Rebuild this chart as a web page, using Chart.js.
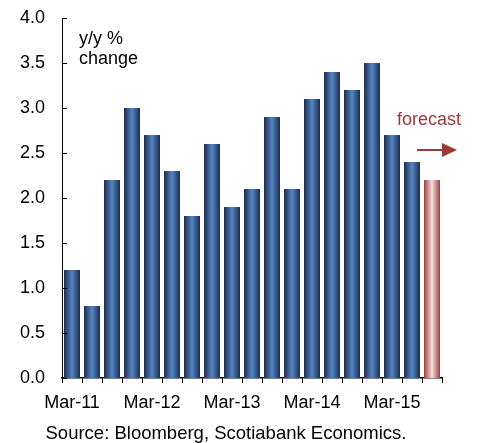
<!DOCTYPE html>
<html>
<head>
<meta charset="utf-8">
<script src="https://cdn.jsdelivr.net/npm/chart.js@4"></script>
<style>
  html, body { margin: 0; padding: 0; background: #fff; }
  #wrap { position: relative; width: 478px; height: 443px; }
</style>
</head>
<body>
<div id="wrap"><canvas id="chart"></canvas></div>
<script>
// quarterly y/y % change, last bar is the forecast
const quarters = ['Mar-11', '', '', '', 'Mar-12', '', '', '', 'Mar-13', '', '', '', 'Mar-14', '', '', '', 'Mar-15', '', '']
const values = [1.2, 0.8, 2.2, 3.0, 2.7, 2.3, 1.8, 2.6, 1.9, 2.1, 2.9, 2.1, 3.1, 3.4, 3.2, 3.5, 2.7, 2.4, 2.2]
const forecastIndex = 18
const yTicks = [0, 0.5, 1.0, 1.5, 2.0, 2.5, 3.0, 3.5, 4.0]

const FONT = 'Liberation Sans, Arial, sans-serif'

// bar gradient: dark edges, light middle
function barFill(context) {
  const chart = context.chart
  const xs = chart.scales.x
  if (!xs || xs.width == null) return '#3b64a0'
  const cx = xs.getPixelForValue(context.dataIndex)
  const w = (xs.width / quarters.length) * 0.8
  const g = chart.ctx.createLinearGradient(cx - w / 2, 0, cx + w / 2, 0)
  if (context.dataIndex === forecastIndex) {
    g.addColorStop(0, '#9c3f3f')
    g.addColorStop(0.5, '#f6dede')
    g.addColorStop(1, '#9c3f3f')
  } else {
    g.addColorStop(0, '#1d2c4a')
    g.addColorStop(0.5, '#5386c6')
    g.addColorStop(1, '#1d2c4a')
  }
  return g
}

// y ticks drawn inward, x ticks outward, plus text notes
const decorPlugin = {
  id: 'decor',
  afterDraw(chart) {
    const ctx = chart.ctx
    const area = chart.chartArea
    const ys = chart.scales.y
    const xs = chart.scales.x
    ctx.save()
    ctx.strokeStyle = '#000'
    ctx.lineWidth = 1
    yTicks.forEach((v) => {
      const py = Math.round(ys.getPixelForValue(v)) + 0.5
      ctx.beginPath()
      ctx.moveTo(area.left, py)
      ctx.lineTo(area.left + 5, py)
      ctx.stroke()
    })
    for (let i = 0; i <= quarters.length; i++) {
      const px = Math.round(xs.getPixelForValue(i - 0.5)) + 0.5
      ctx.beginPath()
      ctx.moveTo(px, area.bottom)
      ctx.lineTo(px, area.bottom + 5)
      ctx.stroke()
    }

    ctx.fillStyle = '#000'
    ctx.font = '18px ' + FONT
    ctx.textAlign = 'left'
    ctx.textBaseline = 'alphabetic'
    ctx.fillText('y/y %', 79, 44)
    ctx.fillText('change', 79, 64)

    ctx.fillStyle = '#9a3b3b'
    ctx.fillText('forecast', 397, 125)
    ctx.strokeStyle = '#9a3b3b'
    ctx.lineWidth = 2
    ctx.beginPath()
    ctx.moveTo(417, 150)
    ctx.lineTo(444, 150)
    ctx.stroke()
    ctx.beginPath()
    ctx.moveTo(457, 150)
    ctx.lineTo(442, 143)
    ctx.lineTo(442, 157)
    ctx.closePath()
    ctx.fill()

    ctx.fillStyle = '#000'
    ctx.font = '18.5px ' + FONT
    ctx.textAlign = 'center'
    ctx.fillText('Source: Bloomberg, Scotiabank Economics.', 226, 439)
    ctx.restore()
  }
}

new Chart(document.getElementById('chart'), {
  type: 'bar',
  data: {
    labels: quarters,
    datasets: [{
      data: values,
      backgroundColor: barFill,
      borderWidth: 0,
      barPercentage: 0.8,
      categoryPercentage: 1.0
    }]
  },
  options: {
    responsive: true,
    maintainAspectRatio: false,
    animation: false,
    layout: { padding: { left: 0, top: 18, right: 36, bottom: 35 } },
    plugins: {
      legend: { display: false },
      tooltip: { enabled: false }
    },
    scales: {
      x: {
        offset: true,
        grid: { display: false, drawTicks: false },
        border: { display: true, color: '#000', width: 1.5 },
        ticks: {
          autoSkip: false,
          maxRotation: 0,
          padding: 14,
          color: '#000',
          font: { family: FONT, size: 18 }
        },
        afterFit(scale) {
          scale.height = 30
          scale.paddingLeft = 0
          scale.paddingRight = 0
        }
      },
      y: {
        min: 0,
        max: 4,
        grid: { display: false, drawTicks: false },
        border: { display: true, color: '#000', width: 1 },
        ticks: {
          stepSize: 0.5,
          padding: 17,
          color: '#000',
          font: { family: FONT, size: 18 },
          callback: (v) => v.toFixed(1)
        },
        afterFit(scale) {
          scale.width = 62
          scale.paddingTop = 0
          scale.paddingBottom = 0
        }
      }
    }
  },
  plugins: [decorPlugin]
})
</script>
</body>
</html>
